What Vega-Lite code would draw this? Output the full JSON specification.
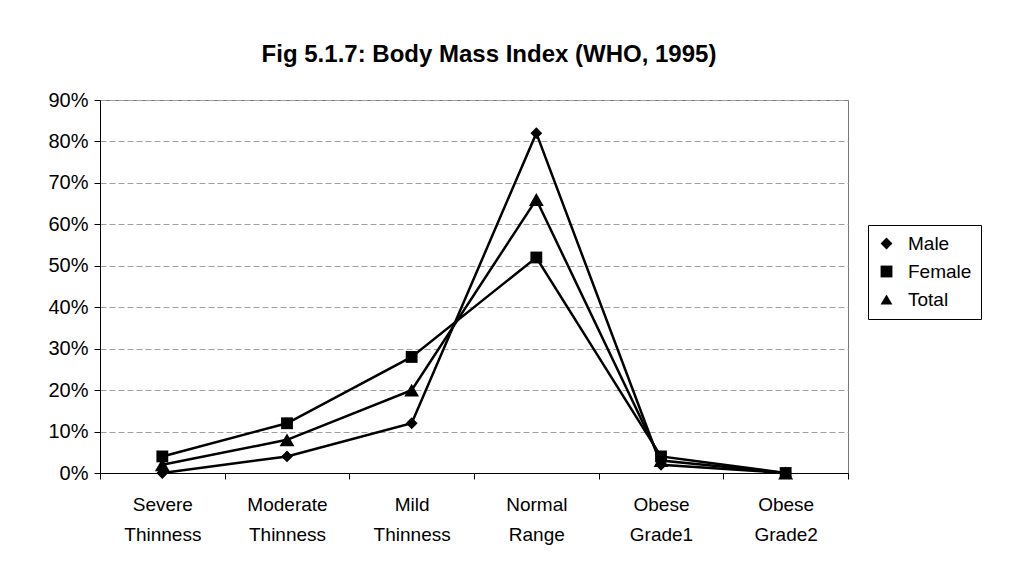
{
  "$schema": "https://vega.github.io/schema/vega-lite/v6.json",
  "autosize": {"type": "none"},
  "width": 748,
  "height": 373,
  "padding": {"left": 100, "top": 100, "right": 183, "bottom": 100},
  "background": "white",
  "title": {
    "text": "Fig 5.1.7: Body Mass Index (WHO, 1995)",
    "font": "Liberation Sans",
    "fontSize": 24,
    "fontWeight": "bold",
    "color": "black",
    "anchor": "middle",
    "offset": 23,
    "dx": 15
  },
  "data": {
    "values": [
      {"category": "Severe Thinness", "series": "Male", "value": 0.0},
      {"category": "Moderate Thinness", "series": "Male", "value": 0.04},
      {"category": "Mild Thinness", "series": "Male", "value": 0.12},
      {"category": "Normal Range", "series": "Male", "value": 0.82},
      {"category": "Obese Grade1", "series": "Male", "value": 0.02},
      {"category": "Obese Grade2", "series": "Male", "value": 0.0},
      {"category": "Severe Thinness", "series": "Female", "value": 0.04},
      {"category": "Moderate Thinness", "series": "Female", "value": 0.12},
      {"category": "Mild Thinness", "series": "Female", "value": 0.28},
      {"category": "Normal Range", "series": "Female", "value": 0.52},
      {"category": "Obese Grade1", "series": "Female", "value": 0.04},
      {"category": "Obese Grade2", "series": "Female", "value": 0.0},
      {"category": "Severe Thinness", "series": "Total", "value": 0.02},
      {"category": "Moderate Thinness", "series": "Total", "value": 0.08},
      {"category": "Mild Thinness", "series": "Total", "value": 0.2},
      {"category": "Normal Range", "series": "Total", "value": 0.66},
      {"category": "Obese Grade1", "series": "Total", "value": 0.03},
      {"category": "Obese Grade2", "series": "Total", "value": 0.0}
    ]
  },
  "encoding": {
    "x": {
      "field": "category",
      "type": "nominal",
      "sort": null,
      "bandPosition": 0.5,
      "scale": {"type": "band", "paddingInner": 0, "paddingOuter": 0},
      "axis": {
        "title": null,
        "labelAngle": 0,
        "labelExpr": "split(datum.label, ' ')",
        "labelFont": "Liberation Sans",
        "labelFontSize": 19,
        "labelColor": "black",
        "labelLineHeight": 30,
        "labelPadding": 16,
        "labelBaseline": "top",
        "tickBand": "extent",
        "ticks": true,
        "tickSize": 6,
        "tickColor": "black",
        "domainColor": "black",
        "grid": false
      }
    },
    "y": {
      "field": "value",
      "type": "quantitative",
      "scale": {"domain": [0, 0.9], "nice": false},
      "axis": {
        "title": null,
        "format": ".0%",
        "values": [0, 0.1, 0.2, 0.3, 0.4, 0.5, 0.6, 0.7, 0.8, 0.9],
        "labelFont": "Liberation Sans",
        "labelFontSize": 20,
        "labelColor": "black",
        "labelPadding": 6,
        "tickSize": 6,
        "tickColor": "black",
        "domainColor": "black",
        "grid": true,
        "gridColor": "#a0a0a0",
        "gridDash": [6, 3],
        "gridWidth": 1
      }
    }
  },
  "layer": [
    {
      "mark": {"type": "line", "color": "black", "strokeWidth": 2.5},
      "encoding": {"detail": {"field": "series", "type": "nominal"}}
    },
    {
      "mark": {"type": "point", "filled": true, "color": "black", "opacity": 1},
      "encoding": {
        "shape": {
          "field": "series",
          "type": "nominal",
          "scale": {"domain": ["Male", "Female", "Total"], "range": ["diamond", "square", "triangle-up"]},
          "legend": {
            "title": null,
            "orient": "none",
            "legendX": 768,
            "legendY": 125,
            "symbolSize": 140,
            "symbolFillColor": "black",
            "labelFont": "Liberation Sans",
            "labelFontSize": 19,
            "labelColor": "black",
            "labelOffset": 12,
            "rowPadding": 8,
            "padding": 9,
            "strokeColor": "black"
          }
        },
        "size": {
          "condition": {"test": "datum.series === 'Total'", "value": 220},
          "value": 140
        }
      }
    }
  ],
  "config": {
    "view": {"stroke": "#777777", "strokeWidth": 1},
    "axis": {"domainWidth": 1, "tickWidth": 1}
  }
}
